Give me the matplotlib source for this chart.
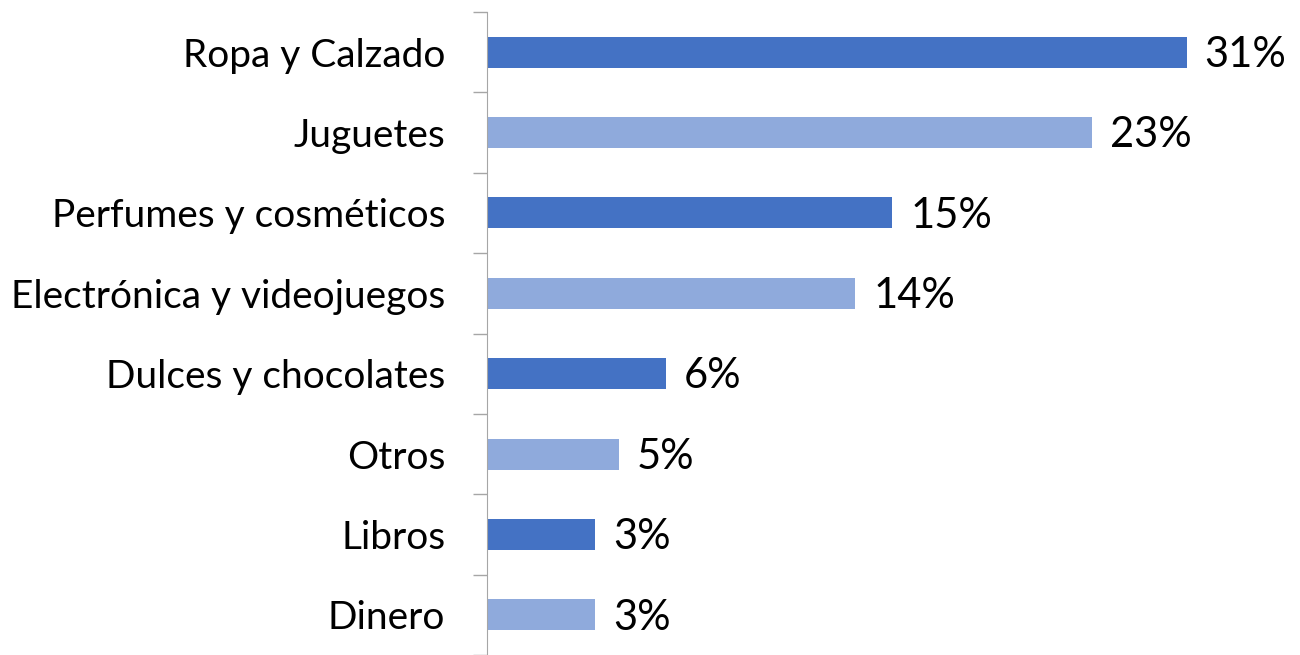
import matplotlib
matplotlib.use("Agg")
import matplotlib.pyplot as plt

categories = ['Ropa y Calzado', 'Juguetes', 'Perfumes y cosméticos', 'Electrónica y videojuegos',
              'Dulces y chocolates', 'Otros', 'Libros', 'Dinero']
values = [26.6, 23.0, 15.4, 14.0, 6.8, 5.0, 4.1, 4.1]
labels = ['31%', '23%', '15%', '14%', '6%', '5%', '3%', '3%']
colors = ['#4472C4', '#8FAADC'] * 4

plt.rcParams['font.family'] = ['Lato', 'DejaVu Sans']

fig = plt.figure(figsize=(13, 6.55), dpi=100)
ax = fig.add_axes([487 / 1300, 0, 813 / 1300, 643 / 655])

pos = list(range(len(categories)))
ax.barh(pos, values, height=0.385, color=colors)
for p, v, lab in zip(pos, values, labels):
    ax.annotate(lab, (v, p), xytext=(13, -2), textcoords='offset points',
                va='center', ha='left', fontsize=30)

ax.set_xlim(0, 813 / 26.3)
ax.set_ylim(len(categories) - 0.5, -0.5)
ax.set_yticks(pos)
ax.set_yticklabels(categories, fontsize=28)
ax.tick_params(axis='y', which='major', length=0, pad=30)
ax.set_yticks([p - 0.5 for p in pos] + [len(pos) - 0.5], minor=True)
ax.tick_params(axis='y', which='minor', length=10, color='#A6A6A6', width=1)
ax.set_xticks([])
for s in ['top', 'right', 'bottom']:
    ax.spines[s].set_visible(False)
ax.spines['left'].set_color('#A6A6A6')

fig.savefig('out.png', dpi=100)
